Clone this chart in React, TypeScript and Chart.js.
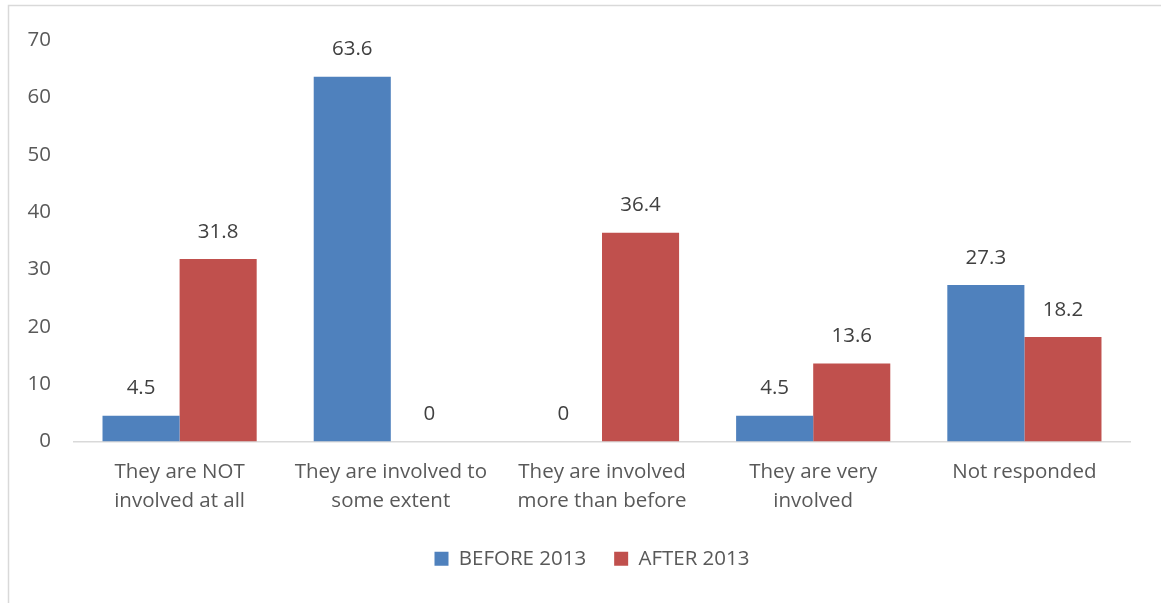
import React, { useEffect, useRef } from "react";
import { Chart, registerables } from "chart.js";

Chart.register(...registerables);

const categories: string[][] = [
  ["They are NOT", "involved at all"],
  ["They are involved to", "some extent"],
  ["They are involved", "more than before"],
  ["They are very", "involved"],
  ["Not responded"],
];
const beforeValues = [4.5, 63.6, 0, 4.5, 27.3];
const afterValues = [31.8, 0, 36.4, 13.6, 18.2];
const seriesNames = ["BEFORE 2013", "AFTER 2013"];
const yTicks = [0, 10, 20, 30, 40, 50, 60, 70];

const FONT = "'Open Sans', 'Liberation Sans', sans-serif";

export default function App() {
  const ref = useRef<HTMLCanvasElement>(null);
  useEffect(() => {
    if (!ref.current) return;
    const frame = {
      id: "frame",
      beforeDraw(chart: any) {
        const ctx = chart.ctx;
        ctx.save();
        ctx.fillStyle = "#ffffff";
        ctx.fillRect(0, 0, chart.width, chart.height);
        ctx.strokeStyle = "#d9d9d9";
        ctx.lineWidth = 1.5;
        ctx.strokeRect(8.5, 5.5, chart.width + 20, chart.height + 20);
        ctx.restore();
      },
    };
    const shiftLegend = {
      id: "shiftLegend",
      afterLayout(chart: any) {
        if (chart.legend) chart.legend.left = 54;
      },
    };
    const labels = {
      id: "valueLabels",
      afterDatasetsDraw(chart: any) {
        const ctx = chart.ctx;
        ctx.save();
        ctx.font = `20.5px ${FONT}`;
        ctx.fillStyle = "#404040";
        ctx.textAlign = "center";
        ctx.textBaseline = "bottom";
        chart.data.datasets.forEach((ds: any, i: number) => {
          const meta = chart.getDatasetMeta(i);
          meta.data.forEach((bar: any, j: number) => {
            ctx.fillText(String(ds.data[j]), bar.x, bar.y - 17);
          });
        });
        ctx.restore();
      },
    };
    const chart = new Chart(ref.current, {
      type: "bar",
      data: {
        labels: categories,
        datasets: [
          { label: seriesNames[0], data: beforeValues, backgroundColor: "#4F81BD", categoryPercentage: 0.73, barPercentage: 1 },
          { label: seriesNames[1], data: afterValues, backgroundColor: "#C0504D", categoryPercentage: 0.73, barPercentage: 1 },
        ],
      },
      options: {
        animation: false,
        responsive: false,
        layout: { padding: { left: 0, top: 40, right: 31, bottom: 24 } },
        scales: {
          x: {
            grid: { display: false, drawTicks: false },
            border: { display: true, color: "#d9d9d9", width: 1.5 },
            ticks: { color: "#595959", font: { family: FONT, size: 20.5, lineHeight: 1.42 }, padding: 16, maxRotation: 0 },
            afterFit(scale: any) { scale.height = 79; },
          },
          y: {
            min: 0,
            max: 70,
            afterBuildTicks(scale: any) { scale.ticks = yTicks.map((v) => ({ value: v })); },
            grid: { display: false, drawTicks: false },
            border: { display: false },
            ticks: { color: "#595959", font: { family: FONT, size: 20.5 }, padding: 23 },
            afterFit(scale: any) { scale.width = 74; },
          },
        },
        plugins: {
          legend: {
            position: "bottom",
            labels: {
              color: "#595959",
              font: { family: FONT, size: 20.5 },
              boxWidth: 14,
              boxHeight: 14,
              padding: 28,
            },
          },
          tooltip: { enabled: false },
        },
      },
      plugins: [frame, shiftLegend, labels],
    });
    return () => chart.destroy();
  }, []);
  return (
    <div style={{ position: "absolute", left: 0, top: 0, width: 1161, height: 603 }}>
      <canvas ref={ref} width={1161} height={603} style={{ display: "block" }} />
    </div>
  );
}
